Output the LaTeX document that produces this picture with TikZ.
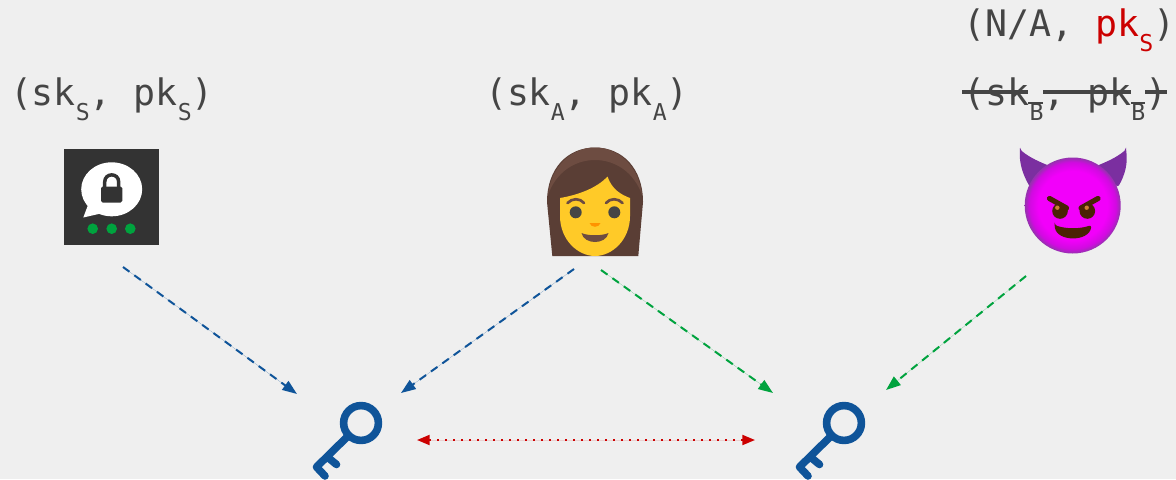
\documentclass[tikz,border=0pt]{standalone}
\usepackage{fontspec}
\setmonofont{DejaVu Sans Mono}
\usetikzlibrary{arrows.meta}
\definecolor{bgc}{HTML}{EFEFEF}
\definecolor{txt}{HTML}{454545}
\definecolor{bluec}{HTML}{0F5499}
\definecolor{greenc}{HTML}{00A33E}
\definecolor{redc}{HTML}{CC0000}
\definecolor{hairc}{HTML}{5A3E35}
\definecolor{hairl}{HTML}{6D4C41}
\definecolor{facec}{HTML}{FFCA28}
\definecolor{hornc}{HTML}{7B2FA0}
\definecolor{devild}{HTML}{4A2205}
\pgfdeclareradialshading{devilball}{\pgfpointorigin}{
  rgb(0bp)=(0.95,0,0.98);
  rgb(18bp)=(0.95,0,0.98);
  rgb(22.5bp)=(0.82,0.04,0.88);
  rgb(25bp)=(0.58,0.2,0.68);
  rgb(50bp)=(0.58,0.2,0.68)}
\newcommand{\sbs}[1]{\raisebox{-0.42em}{\fontsize{17.4}{20}\selectfont #1}}
\tikzset{
  x=0.75pt,y=-0.75pt,
  keytext/.style={anchor=base west,inner sep=0pt,outer sep=0pt,text=txt,
    font=\ttfamily\fontsize{27.4}{32}\selectfont},
  strike/.style={draw=txt,line width=2.6pt},
  strikesub/.style={draw=txt,line width=1.2pt},
  link/.style={line width=1.5pt,dash pattern=on 6pt off 4.5pt,
    -{Triangle[length=11pt,width=8pt]}},
  secret/.style={line width=1.5pt,dash pattern=on 1.5pt off 4.5pt,
    {Triangle[length=9.5pt,width=7.5pt]}-{Triangle[length=9.5pt,width=7.5pt]}},
  keyicon/.pic={
    \draw[bluec,line width=5.7pt] (0,0) circle (17.4);
    \draw[bluec,line width=5.7pt,line cap=round,line join=round]
      (-12.5,12.5) -- (-44.5,44) -- (-36,53);
    \draw[bluec,line width=5.7pt,line cap=round] (-33,34.5) -- (-24.5,41.5);
  }
}
\begin{document}
\begin{tikzpicture}
\useasboundingbox (0,0) rectangle (1176,479);
\fill[bgc] (0,0) rectangle (1176,479);
\clip (0,0) rectangle (1176,479);

% labels
\node[keytext] (server) at (10,105) {(sk\sbs{S}, pk\sbs{S})};
\node[keytext] (alice) at (485,105) {(sk\sbs{A}, pk\sbs{A})};
\node[keytext] (bob) at (963.5,105) {(sk\sbs{B}, pk\sbs{B})};
\node[keytext] (evil) at (963.5,36) {(N/A, \textcolor{redc}{pk\sbs{S}})};
\draw[strike] (962,92) -- (1028,92) (1043,92) -- (1131,92) (1145,92) -- (1167,92);
\draw[strikesub] (1028,103) -- (1043,103) (1131,103) -- (1145,103);

% messenger icon
\fill[black!80] (64,149) rectangle (159,245);
\fill[white] (111.7,189.3) ellipse [x radius=30.5,y radius=27];
\fill[white] (88,205) -- (83.3,217.5) -- (103,213) -- cycle;
\fill[black!80,rounded corners=1.2pt] (101,186.5) rectangle (122.3,202.5);
\draw[black!80,line width=2.6pt] (104.7,187) -- (104.7,182)
  .. controls (104.7,172.5) and (118.7,172.5) .. (118.7,182) -- (118.7,187);
\foreach \i in {92.7,111.7,130.3} \fill[greenc] (\i,228.7) circle (5.3);

% woman
\fill[hairc] (552.3,256) -- (547,202) .. controls (547,168) and (568,147.5) .. (595,147.5)
  .. controls (622,147.5) and (643,168) .. (643,202) -- (638.3,256) -- cycle;
\fill[hairl] (595,147.5) .. controls (572,147.5) and (551,166) .. (548,195)
  .. controls (556,172) and (575,160) .. (595,160)
  .. controls (615,160) and (634,172) .. (642,195)
  .. controls (639,166) and (618,147.5) .. (595,147.5) -- cycle;
\fill[facec] (560,198) .. controls (578,195) and (597,188) .. (607.5,176.5)
  .. controls (612,190) and (622,195) .. (630,198) -- (630,216)
  .. controls (630,240) and (612,256) .. (595,256)
  .. controls (578,256) and (560,240) .. (560,216) -- cycle;
\fill[txt] (575.7,212.3) circle (6) (614.3,212.3) circle (6);
\draw[hairl,line width=2pt,line cap=round] (567.5,203) .. controls (572,198) and (580,198) .. (584,203);
\draw[hairl,line width=2pt,line cap=round] (606,203) .. controls (610,198) and (618,198) .. (622.5,203);
\fill[orange!85!yellow] (589.5,223) -- (600.5,223) .. controls (599,228) and (591,228) .. (589.5,223) -- cycle;
\fill[hairl] (581.5,233) .. controls (588,236) and (602,236) .. (608.5,233)
  .. controls (606,245) and (584,245) .. (581.5,233) -- cycle;

% devil
\fill[hornc,rounded corners=1.5pt] (1020,149.5) .. controls (1030,158) and (1040,162) .. (1052,167)
  -- (1030,187) .. controls (1023,175) and (1019,163) .. (1020,149.5) -- cycle;
\fill[hornc,rounded corners=1.5pt] (1126,149.5) .. controls (1116,158) and (1106,162) .. (1094,167)
  -- (1118,187) .. controls (1125,175) and (1128,163) .. (1126,149.5) -- cycle;
\shade[shading=devilball] (1072.7,205.5) circle (48);
\fill[devild] (1060,211) circle (7.8) (1087.3,211) circle (7.8);
\draw[devild,line width=3.9pt,line cap=round] (1049.5,198.5) -- (1066.5,208) (1098,198.5) -- (1081,208);
\fill[brown!80!orange] (1057.3,207.7) circle (2.2) (1086.7,207.7) circle (2.2);
\fill[devild,rounded corners=2pt] (1054.5,225) .. controls (1066,229) and (1080,229) .. (1091.5,225)
  .. controls (1089,242) and (1057,242) .. (1054.5,225) -- cycle;

% keys
\pic at (361,423) {keyicon};
\pic at (844,423) {keyicon};

% connector ends
\coordinate (sa) at (123,267);
\coordinate (sb) at (297,394);
\coordinate (aa) at (574,269);
\coordinate (ab) at (401,393);
\coordinate (ga) at (601,270);
\coordinate (gb) at (773,393);
\coordinate (da) at (1026,276);
\coordinate (db) at (886,390);
\coordinate (ra) at (417,440);
\coordinate (rb) at (755,440);
\draw[link,draw=bluec,fill=bluec] (sa) -- (sb);
\draw[link,draw=bluec,fill=bluec] (aa) -- (ab);
\draw[link,draw=greenc,fill=greenc] (ga) -- (gb);
\draw[link,draw=greenc,fill=greenc] (da) -- (db);
\draw[secret,draw=redc,fill=redc] (ra) -- (rb);
\end{tikzpicture}
\end{document}
